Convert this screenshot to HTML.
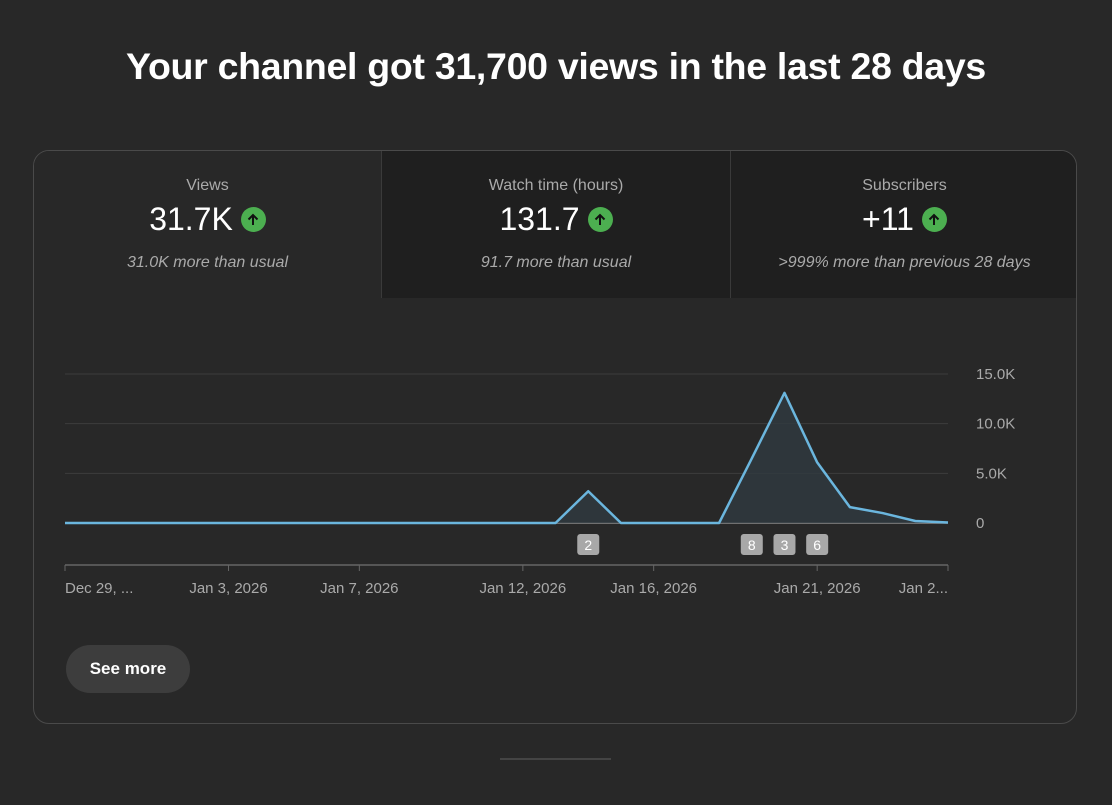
<!DOCTYPE html>
<html><head><meta charset="utf-8"><style>
body{margin:0;width:1112px;height:805px;background:#282828;font-family:"Liberation Sans",sans-serif;color:#fff;overflow:hidden;position:relative}
h1{position:absolute;top:45px;left:0;width:1112px;text-align:center;margin:0;font-size:37.5px;font-weight:bold;letter-spacing:-0.3px}
.card{position:absolute;left:33px;top:150px;width:1044px;height:574px;border:1px solid #4a4a4a;border-radius:16px;overflow:hidden;box-sizing:border-box}
.tab{position:absolute;top:0;height:147px;text-align:center;box-sizing:border-box}
.tab .t{margin-top:26px;font-size:16px;color:#aaa}
.tab .v{margin-top:6px;font-size:32px;display:flex;justify-content:center;align-items:center;gap:8px}
.up{width:25px;height:25px;border-radius:50%;background:#4caf50;display:inline-flex;align-items:center;justify-content:center}
.tab .s{margin-top:16px;font-size:16px;color:#aaa;font-style:italic}
.btn{position:absolute;left:32px;top:494px;width:124px;height:48px;border-radius:24px;background:#3d3d3d;color:#fff;font-size:17px;font-weight:bold;display:flex;align-items:center;justify-content:center}
.bar{position:absolute;left:500px;top:758px;width:111px;height:2px;background:#444}
</style></head><body>
<h1>Your channel got 31,700 views in the last 28 days</h1>
<div class="card">
 <div class="tab" style="left:0;width:348px;background:#282828;border-right:1px solid #3a3a3a">
  <div class="t">Views</div><div class="v">31.7K <span class="up"><svg width="14" height="14" viewBox="0 0 14 14"><path d="M7 12V2M2.5 6.5L7 2l4.5 4.5" stroke="#111" stroke-width="2" fill="none"/></svg></span></div><div class="s">31.0K more than usual</div></div>
 <div class="tab" style="left:348px;width:349px;background:#1f1f1f;border-right:1px solid #3a3a3a">
  <div class="t">Watch time (hours)</div><div class="v">131.7 <span class="up"><svg width="14" height="14" viewBox="0 0 14 14"><path d="M7 12V2M2.5 6.5L7 2l4.5 4.5" stroke="#111" stroke-width="2" fill="none"/></svg></span></div><div class="s">91.7 more than usual</div></div>
 <div class="tab" style="left:697px;width:347px;background:#1f1f1f">
  <div class="t">Subscribers</div><div class="v">+11 <span class="up"><svg width="14" height="14" viewBox="0 0 14 14"><path d="M7 12V2M2.5 6.5L7 2l4.5 4.5" stroke="#111" stroke-width="2" fill="none"/></svg></span></div><div class="s">&gt;999% more than previous 28 days</div></div>
 <div class="btn">See more</div>
</div>
<svg id="chart" width="1112" height="805" style="position:absolute;left:0;top:0"></svg>
<div class="bar"></div>
<script>
const values=[0,0,0,0,0,0,0,0,0,0,0,0,0,0,0,0,3.2,0,0,0,0,6.5,13.1,6.1,1.6,1.0,0.2,0.05];
const yTicks=[0,5,10,15];
const yTickLabels=["0","5.0K","10.0K","15.0K"];
const xTickDays=[0,5,9,14,18,23,27];
const xTickLabels=["Dec 29, ...","Jan 3, 2026","Jan 7, 2026","Jan 12, 2026","Jan 16, 2026","Jan 21, 2026","Jan 2..."];
const markerDays=[16,21,22,23];
const markerLabels=["2","8","3","6"];
const NS="http://www.w3.org/2000/svg";
const svg=document.getElementById('chart');
const X=d=>65+d*(883/27);
const Y=v=>523-v*(149/15);
function mk(t,a){const e=document.createElementNS(NS,t);for(const k in a)e.setAttribute(k,a[k]);svg.appendChild(e);return e;}
yTicks.forEach((v,i)=>{
 const l=mk('line',{x1:65,x2:948,y1:Y(v),y2:Y(v),stroke:v===0?'#888':'#3c3c3c','stroke-width':v===0?1.5:1});
 
 
 const t=mk('text',{x:976,y:Y(v)+5,fill:'#aaa','font-size':15,'font-family':'Liberation Sans'});
 t.textContent=yTickLabels[i];
 
 
});
let pts=values.map((v,i)=>X(i)+','+Y(v)).join(' ');
const area=mk('polygon',{points:X(0)+','+Y(0)+' '+pts+' '+X(27)+','+Y(0),fill:'#2f3a40',opacity:0.8});


const line=mk('polyline',{points:pts,fill:'none',stroke:'#6bb6de','stroke-width':2.5,'stroke-linejoin':'round'});


markerDays.forEach((d,i)=>{
 const r=mk('rect',{x:X(d)-11,y:534,width:22,height:21,rx:3,fill:'#a8a8a8'});
 
 
 const t=mk('text',{x:X(d),y:550,fill:'#fff','font-size':14,'text-anchor':'middle','font-family':'Liberation Sans'});
 t.textContent=markerLabels[i];
 
 
});
const ax=mk('line',{x1:65,x2:948,y1:565,y2:565,stroke:'#666','stroke-width':1.5});


xTickDays.forEach((d,i)=>{
 const tk=mk('line',{x1:X(d),x2:X(d),y1:565,y2:571,stroke:'#666'});
 
 
 const anchor=i===0?'start':(i===xTickDays.length-1?'end':'middle');
 const t=mk('text',{x:X(d),y:593,fill:'#aaa','font-size':15,'text-anchor':anchor,'font-family':'Liberation Sans'});
 t.textContent=xTickLabels[i];
 
 
});
</script>
</body></html>
